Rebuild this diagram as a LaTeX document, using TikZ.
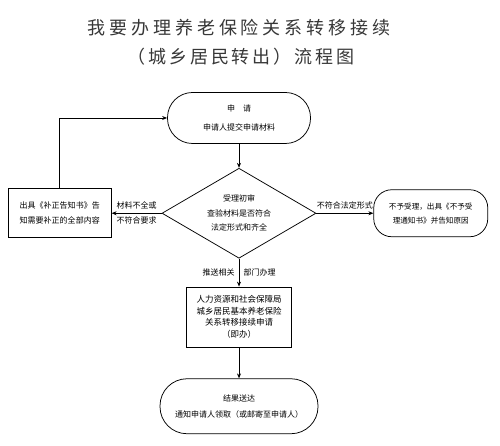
\documentclass[tikz,border=0pt]{standalone}
\usepackage{fontspec}
\setmainfont{Noto Sans CJK SC}
\newfontfamily\titlefont[LetterSpace=22]{Noto Sans CJK SC}
\newfontfamily\subtitlefont[LetterSpace=16]{Noto Sans CJK SC}
\usetikzlibrary{arrows.meta, positioning, shapes.geometric}
\definecolor{TitleGray}{RGB}{55,55,55}
\tikzset{
  flowbox/.style={draw, line width=0.75pt, align=center, font=\fontsize{8}{15}\selectfont},
  endbox/.style={flowbox, rounded corners=22pt},
  arr/.style={line width=0.75pt, -{Stealth[length=5pt,width=4pt]}},
  lbl/.style={font=\fontsize{8}{12}\selectfont},
}

\begin{document}
\begin{tikzpicture}[x=1pt,y=1pt]
\useasboundingbox (0,0) rectangle (500,446);
\node[font=\titlefont\fontsize{18}{20}\selectfont, text=TitleGray] (title1) at (239,418) {我要办理养老保险关系转移接续};
\node[font=\subtitlefont\fontsize{18}{20}\selectfont, text=TitleGray] (title2) at (241,389) {（城乡居民转出）流程图};

\node[endbox, rounded corners=25pt, minimum width=143pt, minimum height=51pt, font=\fontsize{8}{19}\selectfont] (apply) at (239,328) {申　请\\申请人提交申请材料};
\node[flowbox, diamond, aspect=1.7, inner sep=0pt, minimum width=154pt, minimum height=90pt, font=\fontsize{8}{14.5}\selectfont, below=24pt of apply] (check) {受理初审\\查验材料是否符合\\法定形式和齐全};
\node[flowbox, minimum width=103pt, minimum height=49pt, left=50pt of check] (fix) {出具《补正告知书》告\\知需要补正的全部内容};
\node[endbox, rounded corners=18pt, minimum width=114pt, minimum height=47pt, font=\fontsize{7.6}{14}\selectfont, right=57pt of check] (reject) {不予受理，出具《不予受\\理通知书》并告知原因};
\node[flowbox, minimum width=105pt, minimum height=60pt, font=\fontsize{8.5}{11.5}\selectfont, below=28pt of check] (transfer) {人力资源和社会保障局\\城乡居民基本养老保险\\关系转移接续申请\\（即办）};
\node[endbox, rounded corners=27pt, minimum width=158pt, minimum height=55pt, font=\fontsize{8}{16}\selectfont, below=31pt of transfer] (result) {结果送达\\通知申请人领取（或邮寄至申请人）};

\draw[arr] (apply) -- (check);
\draw[arr] (check.west) -- node[lbl, above] {材料不全或} node[lbl, below] {不符合要求} (fix.east);
\draw[arr] (fix.north) |- (apply.west);
\draw[arr] (check.east) -- node[lbl, above] {不符合法定形式} (reject.west);
\draw[arr] (check.south) -- node[lbl] {推送相关\hspace{9pt}部门办理} (transfer.north);
\draw[arr] (transfer) -- (result);
\end{tikzpicture}
\end{document}
